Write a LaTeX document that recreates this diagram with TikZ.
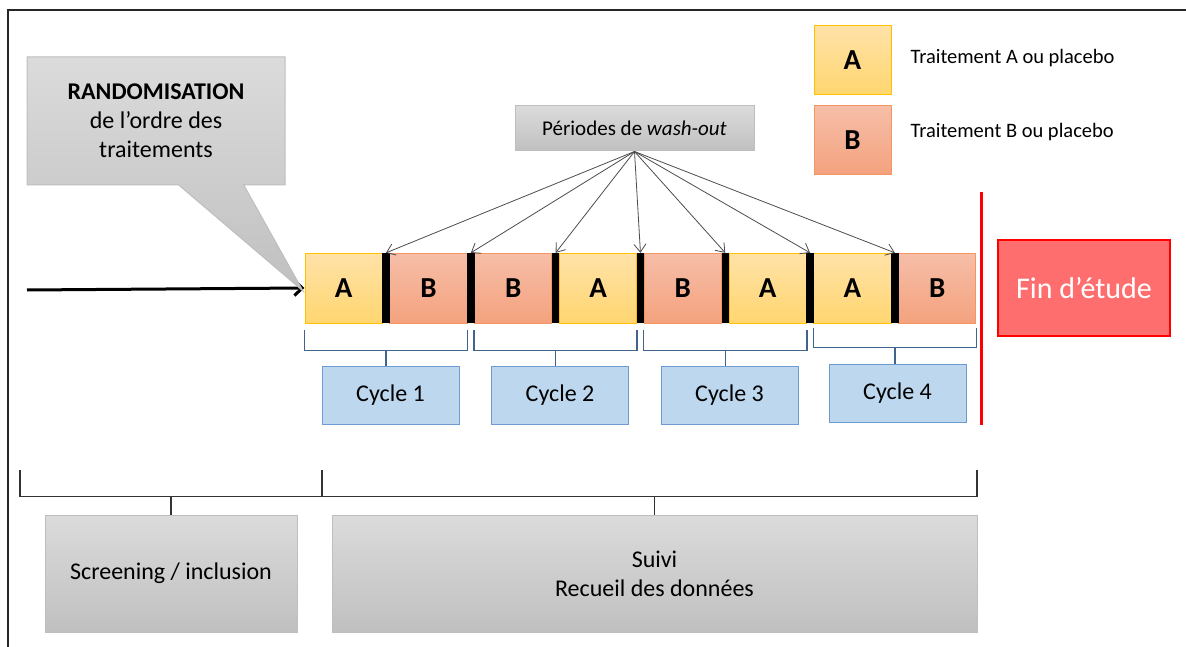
\documentclass[tikz,border=0pt]{standalone}
\usepackage{fontspec}
\setmainfont{Carlito}
\usetikzlibrary{calc}
\usetikzlibrary{arrows.meta}
\usetikzlibrary{shapes.callouts}
\definecolor{jauneH}{RGB}{255,226,168}
\definecolor{jauneB}{RGB}{255,214,112}
\definecolor{jauneC}{RGB}{255,192,0}
\definecolor{saumonH}{RGB}{246,190,168}
\definecolor{saumonB}{RGB}{244,162,126}
\definecolor{saumonC}{RGB}{244,150,100}
\definecolor{grisH}{RGB}{219,219,219}
\definecolor{grisB}{RGB}{192,192,192}
\definecolor{grisC}{RGB}{190,190,190}
\definecolor{bleuF}{RGB}{189,215,238}
\definecolor{bleuC}{RGB}{110,155,210}
\definecolor{bleuA}{RGB}{65,100,140}
\definecolor{rougeF}{RGB}{255,110,110}

\begin{document}
\begin{tikzpicture}[x=1pt,y=-1pt] %% pixels, y down
	\tikzstyle{blocA}=[draw=jauneC,line width=1pt,top color=jauneH,bottom color=jauneB,minimum width=77.3pt,minimum height=70pt,inner sep=0pt,font=\fontsize{29}{31}\selectfont\bfseries];
	\tikzstyle{blocB}=[blocA,draw=saumonC,top color=saumonH,bottom color=saumonB];
	\tikzstyle{barre}=[fill=black,minimum width=7.5pt,minimum height=70pt,inner sep=0pt];
	\tikzstyle{gris}=[draw=grisC,line width=1pt,top color=grisH,bottom color=grisB,inner sep=0pt,align=center,font=\fontsize{24}{29}\selectfont];
	\tikzstyle{cycle}=[draw=bleuC,line width=1pt,fill=bleuF,minimum width=137pt,minimum height=58pt,inner sep=0pt,font=\fontsize{24}{29}\selectfont];
	\tikzstyle{accolc}=[draw=bleuA,line width=1.5pt];
	\tikzstyle{accol}=[draw=black!80,line width=1.3pt];
	\tikzstyle{fleche}=[line width=3pt,-{Straight Barb[length=8pt,width=15pt]}];
	\tikzstyle{flechefine}=[draw=black!70,line width=0.8pt,-{Straight Barb[length=8pt,width=12pt]}];
	\useasboundingbox (0,0) rectangle (1186,647);
	%% frame
	\draw[line width=2pt,black!85] (8,647) -- (8,10) -- (1186,10);
	%% periods
	\node[blocA] (P1) at (343.65,288) {A};
	\node[blocB] (P2) at (428.45,288) {B};
	\node[blocB] (P3) at (513.25,288) {B};
	\node[blocA] (P4) at (598.05,288) {A};
	\node[blocB] (P5) at (682.85,288) {B};
	\node[blocA] (P6) at (767.65,288) {A};
	\node[blocA] (P7) at (852.45,288) {A};
	\node[blocB] (P8) at (937.25,288) {B};
	%% wash-out bars
	\node[barre] (W1) at (386.05,288) {};
	\node[barre] (W2) at (470.85,288) {};
	\node[barre] (W3) at (555.65,288) {};
	\node[barre] (W4) at (640.45,288) {};
	\node[barre] (W5) at (725.25,288) {};
	\node[barre] (W6) at (810.05,288) {};
	\node[barre] (W7) at (894.85,288) {};
	%% entry arrow and randomisation
	\coordinate (E0) at (27,290);
	\draw[fleche] (E0) -- (P1.west);
	\node[rectangle callout,gris,callout absolute pointer={(303,291)},callout pointer width=65pt,
		minimum width=258pt,minimum height=128pt] (RR) at (156,121)
		{\textbf{RANDOMISATION}\\de l’ordre des\\traitements};
	%% wash-out label
	\node[gris,minimum width=239pt,minimum height=45pt,font=\fontsize{21}{25}\selectfont] (WO) at (634.5,128.5) {Périodes de \emph{wash-out}};
	\foreach \i in {1,...,7} \draw[flechefine] (WO.south) -- (W\i.north);
	%% legend
	\node[blocA,minimum width=77pt,minimum height=69pt] (LA) at (852.5,60.5) {A};
	\node[blocB,minimum width=77pt,minimum height=69pt] (LB) at (852.5,140.5) {B};
	\node[anchor=west,font=\fontsize{20.5}{24}\selectfont] (TA) at (907,58) {Traitement A ou placebo};
	\node[anchor=west,font=\fontsize{20.5}{24}\selectfont] (TB) at (907,132) {Traitement B ou placebo};
	%% cycles
	\node[cycle] (C1) at (390.5,395) {Cycle 1};
	\node[cycle] (C2) at (560,395) {Cycle 2};
	\node[cycle] (C3) at (729.5,395) {Cycle 3};
	\node[cycle] (C4) at (897.5,393) {Cycle 4};
	\coordinate (M1) at ($(P1.south west)!.5!(P2.south east)+(0,27)$);
	\coordinate (M2) at ($(P3.south west)!.5!(P4.south east)+(0,27)$);
	\coordinate (M3) at ($(P5.south west)!.5!(P6.south east)+(0,27)$);
	\coordinate (M4) at ($(P7.south west)!.5!(P8.south east)+(0,24)$);
	\draw[accolc] ($(P1.south west)+(0,6)$) |- (M1) -| ($(P2.south east)+(0,6)$);
	\draw[accolc] ($(P3.south west)+(0,6)$) |- (M2) -| ($(P4.south east)+(0,6)$);
	\draw[accolc] ($(P5.south west)+(0,6)$) |- (M3) -| ($(P6.south east)+(0,6)$);
	\draw[accolc] ($(P7.south west)+(0,4)$) |- (M4) -| ($(P8.south east)+(0,4)$);
	\draw[accolc] (M1) -- (C1.north -| M1);
	\draw[accolc] (M2) -- (C2.north -| M2);
	\draw[accolc] (M3) -- (C3.north -| M3);
	\draw[accolc] (M4) -- (C4.north -| M4);
	%% end of study
	\draw[red,line width=3pt] (981,192) -- (981,425);
	\node[draw=red,line width=1.5pt,fill=rougeF,minimum width=172pt,minimum height=96pt,text=white,font=\fontsize{30}{34}\selectfont] (FF) at (1084,288) {Fin d’étude};
	%% phases
	\node[gris,minimum width=252pt,minimum height=117pt] (SS) at (171,573.5) {Screening / inclusion};
	\node[gris,minimum width=645pt,minimum height=117pt] (SV) at (654.5,573.5) {Suivi\\Recueil des données};
	\coordinate (g1) at (20,470);
	\coordinate (g2) at (322,470);
	\coordinate (g3) at (977,470);
	\draw[accol] (g1) |- ($(SS.north)+(0,-18)$) -| (g2);
	\draw[accol] (g2) |- ($(SV.north)+(0,-18)$) -| (g3);
	\draw[accol] (SS.north) -- ++(0,-18);
	\draw[accol] (SV.north) -- ++(0,-18);
\end{tikzpicture}
\end{document}
